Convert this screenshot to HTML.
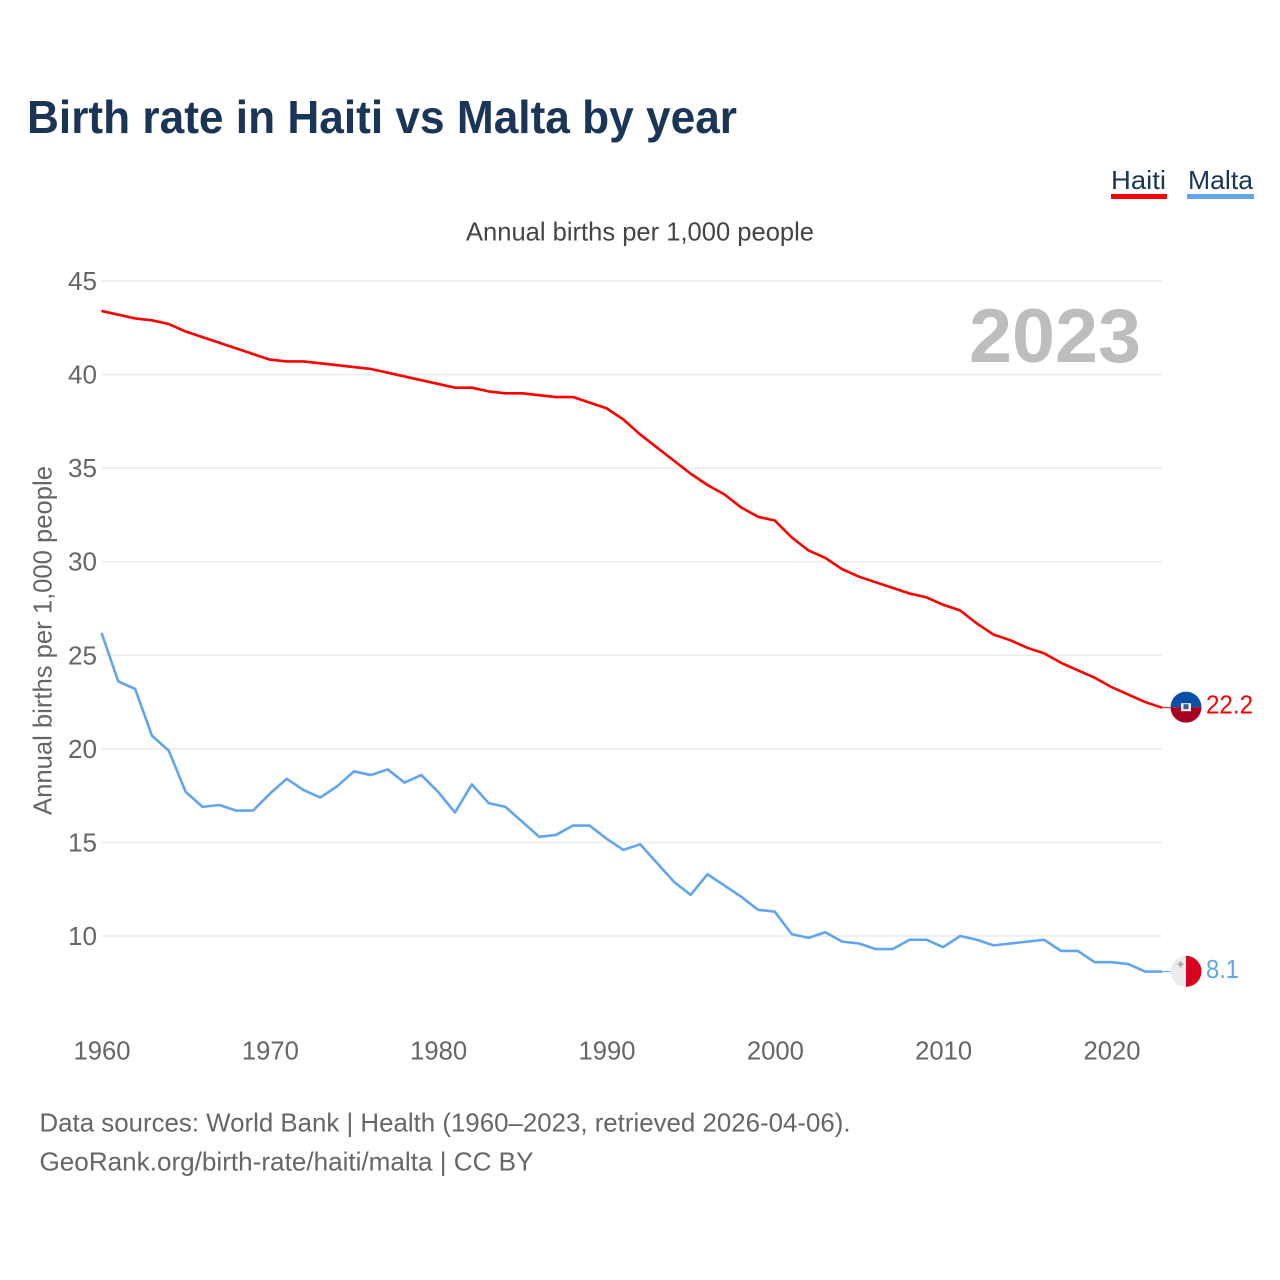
<!DOCTYPE html>
<html lang="en">
<head>
<meta charset="utf-8">
<title>Birth rate in Haiti vs Malta by year</title>
<style>
html,body{margin:0;padding:0;background:#fff;}
svg{display:block;font-family:"Liberation Sans",sans-serif;}
</style>
</head>
<body>
<svg id="chart" width="1280" height="1280" viewBox="0 0 1280 1280" xmlns="http://www.w3.org/2000/svg">
  <text x="27" y="133" font-size="46" font-weight="700" fill="#1a3556" textLength="710" lengthAdjust="spacingAndGlyphs">Birth rate in Haiti vs Malta by year</text>
  <text x="1111" y="189" font-size="26" fill="#1a3556" textLength="55" lengthAdjust="spacingAndGlyphs">Haiti</text>
  <rect x="1111" y="194" width="56" height="5" fill="#ff0000"/>
  <text x="1188" y="189" font-size="26" fill="#1a3556" textLength="65" lengthAdjust="spacingAndGlyphs">Malta</text>
  <rect x="1187" y="194" width="67" height="5" fill="#60a5ed"/>
  <text x="466" y="240.5" font-size="26" fill="#444444" textLength="348" lengthAdjust="spacingAndGlyphs">Annual births per 1,000 people</text>
  <text transform="translate(51.5,815) rotate(-90)" font-size="26" fill="#666666" textLength="349" lengthAdjust="spacingAndGlyphs">Annual births per 1,000 people</text>
  <g id="grid"></g>
  <g id="y-ticks"></g>
  <g id="x-ticks"></g>
  <text x="969" y="362" font-size="76" font-weight="700" fill="#bdbdbd" textLength="172" lengthAdjust="spacingAndGlyphs">2023</text>
  <g id="series"></g>
  <g id="flag-haiti">
    <clipPath id="clip-haiti"><circle cx="0" cy="0" r="15.5"/></clipPath>
    <g clip-path="url(#clip-haiti)">
      <rect x="-16" y="-16" width="32" height="16" fill="#0a4fa8"/>
      <rect x="-16" y="0" width="32" height="16" fill="#a8001f"/>
      <rect x="-5" y="-4" width="10" height="8" fill="#f2f2f2"/>
      <rect x="-2.5" y="-3" width="5" height="5" fill="#3f5f8a"/>
    </g>
  </g>
  <g id="flag-malta">
    <clipPath id="clip-malta"><circle cx="0" cy="0" r="15.5"/></clipPath>
    <g clip-path="url(#clip-malta)">
      <rect x="-16" y="-16" width="16" height="32" fill="#ececec"/>
      <rect x="0" y="-16" width="16" height="32" fill="#d8001f"/>
      <path d="M-6.5-10h2v2h2v2h-2v2h-2v-2h-2v-2h2z" fill="#a8a8a8"/>
    </g>
  </g>
  <text id="value-haiti" x="1206" y="713" font-size="26" fill="#ff0000" textLength="47" lengthAdjust="spacingAndGlyphs"></text>
  <text id="value-malta" x="1206" y="978" font-size="26" fill="#60a5ed" textLength="33" lengthAdjust="spacingAndGlyphs"></text>
  <text x="39.5" y="1131.5" font-size="26" fill="#666666" textLength="811" lengthAdjust="spacingAndGlyphs">Data sources: World Bank | Health (1960–2023, retrieved 2026-04-06).</text>
  <text x="39.5" y="1170.5" font-size="26" fill="#666666" textLength="494" lengthAdjust="spacingAndGlyphs">GeoRank.org/birth-rate/haiti/malta | CC BY</text>
</svg>
<script>
const firstYear = 1960;
const lastYear = 2023;
const yTickValues = [10, 15, 20, 25, 30, 35, 40, 45];
const xTickValues = [1960, 1970, 1980, 1990, 2000, 2010, 2020];
const haitiValues = [43.4,43.2,43.0,42.9,42.7,42.3,42.0,41.7,41.4,41.1,40.8,40.7,40.7,40.6,40.5,40.4,40.3,40.1,39.9,39.7,39.5,39.3,39.3,39.1,39.0,39.0,38.9,38.8,38.8,38.5,38.2,37.6,36.8,36.1,35.4,34.7,34.1,33.6,32.9,32.4,32.2,31.3,30.6,30.2,29.6,29.2,28.9,28.6,28.3,28.1,27.7,27.4,26.7,26.1,25.8,25.4,25.1,24.6,24.2,23.8,23.3,22.9,22.5,22.2];
const maltaValues = [26.2,23.6,23.2,20.7,19.9,17.7,16.9,17.0,16.7,16.7,17.6,18.4,17.8,17.4,18.0,18.8,18.6,18.9,18.2,18.6,17.7,16.6,18.1,17.1,16.9,16.1,15.3,15.4,15.9,15.9,15.2,14.6,14.9,13.9,12.9,12.2,13.3,12.7,12.1,11.4,11.3,10.1,9.9,10.2,9.7,9.6,9.3,9.3,9.8,9.8,9.4,10.0,9.8,9.5,9.6,9.7,9.8,9.2,9.2,8.6,8.6,8.5,8.1,8.1];

const NS = 'http://www.w3.org/2000/svg';
const plotLeft = 101.5, plotRight = 1162;
function xScale(year) { return plotLeft + (year - firstYear) * (plotRight - plotLeft) / (lastYear - firstYear); }
function yScale(v) { return 936 - (v - 10) * (936 - 281) / 35; }
function make(tag, attrs, parent) {
  const el = document.createElementNS(NS, tag);
  for (const k in attrs) el.setAttribute(k, attrs[k]);
  parent.appendChild(el);
  return el;
}
const gridG = document.getElementById('grid');
const yG = document.getElementById('y-ticks');
const xG = document.getElementById('x-ticks');
const seriesG = document.getElementById('series');

yTickValues.forEach(function (v) {
  const line = make('line', {x1: plotLeft, x2: plotRight, y1: yScale(v), y2: yScale(v), stroke: '#ececec', 'stroke-width': 1.5}, gridG);
  
  
  const t = make('text', {x: 97, y: yScale(v) + 9, 'text-anchor': 'end', 'font-size': 26, fill: '#666666', textLength: 29, lengthAdjust: 'spacingAndGlyphs'}, yG);
  t.textContent = v;
  
  
});
xTickValues.forEach(function (yr) {
  const t = make('text', {x: xScale(yr) - 28, y: 1059.5, 'font-size': 26, fill: '#666666', textLength: 57, lengthAdjust: 'spacingAndGlyphs'}, xG);
  t.textContent = yr;
  
  
});
function pathFor(values) {
  return values.map(function (v, i) {
    return (i ? 'L' : 'M') + xScale(firstYear + i).toFixed(2) + ' ' + yScale(v).toFixed(2);
  }).join(' ');
}
const colors = {haiti: '#ff0000', malta: '#60a5ed'};
const haitiLine = make('path', {d: pathFor(haitiValues), fill: 'none', stroke: colors.haiti, 'stroke-width': 2.6, 'stroke-linejoin': 'round'}, seriesG);


const maltaLine = make('path', {d: pathFor(maltaValues), fill: 'none', stroke: colors.malta, 'stroke-width': 2.6, 'stroke-linejoin': 'round'}, seriesG);



const haitiLast = haitiValues[haitiValues.length - 1];
const maltaLast = maltaValues[maltaValues.length - 1];
const haitiLead = make('line', {x1: plotRight, x2: 1171, y1: yScale(haitiLast), y2: yScale(haitiLast), stroke: colors.haiti, 'stroke-width': 1}, seriesG);


const maltaLead = make('line', {x1: plotRight, x2: 1171, y1: yScale(maltaLast), y2: yScale(maltaLast), stroke: colors.malta, 'stroke-width': 1}, seriesG);


document.getElementById('flag-haiti').setAttribute('transform', 'translate(1186,' + (yScale(haitiLast) - 0.5) + ')');
document.getElementById('flag-malta').setAttribute('transform', 'translate(1186,' + (yScale(maltaLast) - 0.2) + ')');
const vh = document.getElementById('value-haiti');
vh.textContent = haitiLast.toFixed(1);
vh.setAttribute('y', yScale(haitiLast) + 6);
const vm = document.getElementById('value-malta');
vm.textContent = maltaLast.toFixed(1);
vm.setAttribute('y', yScale(maltaLast) + 6.5);
</script>
</body>
</html>
